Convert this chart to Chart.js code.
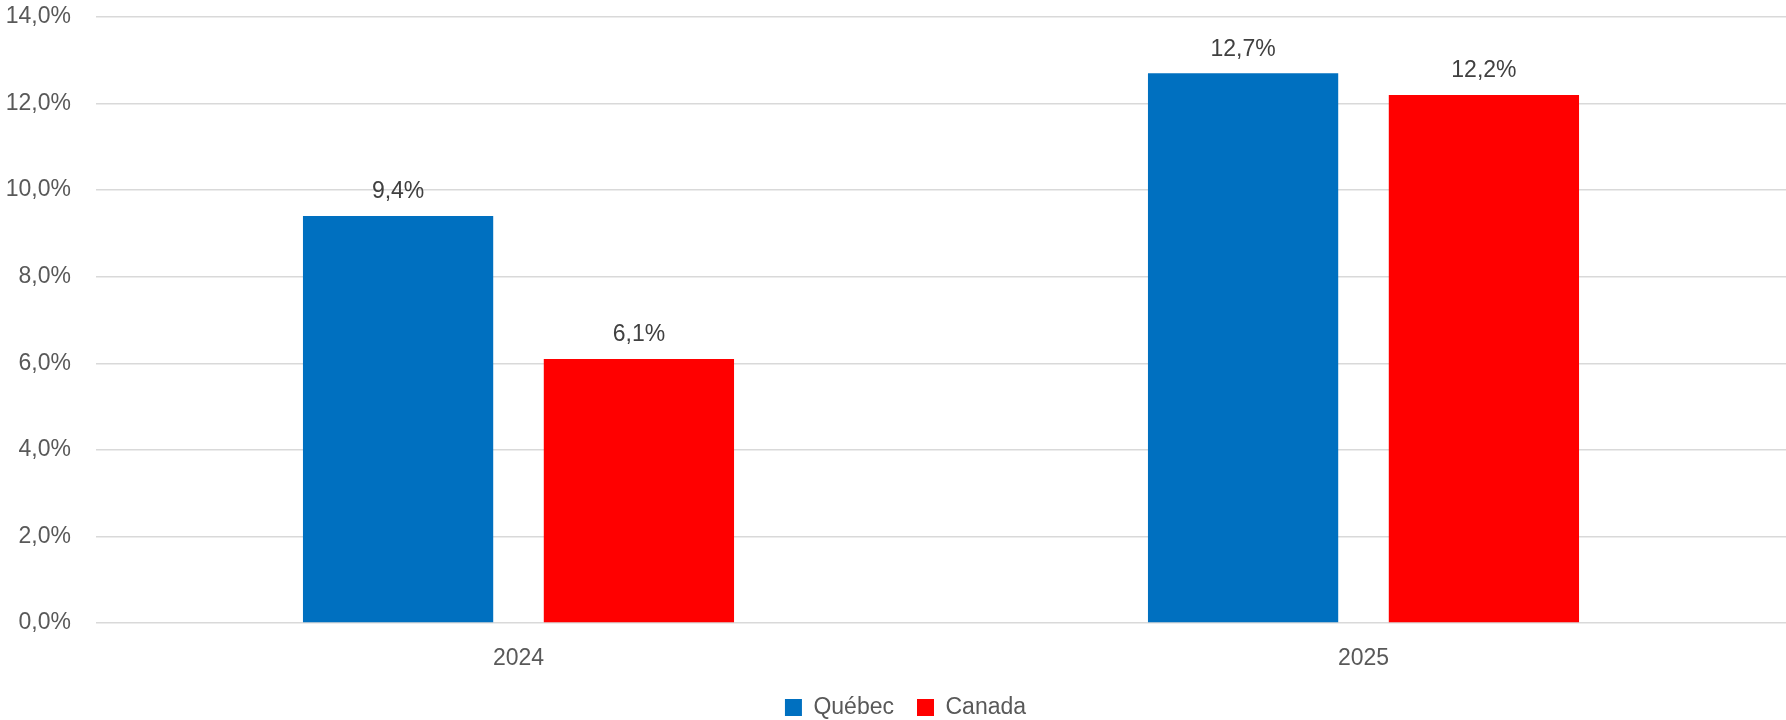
<!DOCTYPE html>
<html lang="fr">
<head>
    <meta charset="UTF-8">
    <title>Québec et Canada</title>
    <script src="https://cdn.jsdelivr.net/npm/chart.js"></script>
    <style>
        body { margin: 0; background: #fff; }
        .wrap { width: 1786px; height: 720px; }
    </style>
</head>
<body>
    <div class="wrap"><canvas id="graphique"></canvas></div>

    <script>
        // Données du graphique
        const annees = ['2024', '2025'];
        const quebec = [9.4, 12.7];
        const canada = [6.1, 12.2];
        const ticksY = [0, 2, 4, 6, 8, 10, 12, 14];

        const police = "'Liberation Sans', Arial, sans-serif";
        const gris = '#595959';

        // Format français : virgule décimale
        const pct = v => v.toFixed(1).replace('.', ',') + '%';

        // Étiquettes de valeur au-dessus des barres
        const etiquettes = {
            id: 'etiquettes',
            afterDatasetsDraw(chart) {
                const ctx = chart.ctx;
                ctx.save();
                ctx.font = '23px ' + police;
                ctx.fillStyle = '#404040';
                ctx.textAlign = 'center';
                ctx.textBaseline = 'middle';
                chart.data.datasets.forEach((ds, i) => {
                    chart.getDatasetMeta(i).data.forEach((bar, j) => {
                        ctx.fillText(pct(ds.data[j]), bar.x, bar.y - 24);
                    });
                });
                ctx.restore();
            }
        };

        // Centre la légende sous la zone du graphique plutôt que sous le canevas
        const legendeCentree = {
            id: 'legendeCentree',
            afterLayout(chart) {
                if (chart.legend) chart.legend.left = chart.chartArea.left - 71;
            }
        };

        new Chart(document.getElementById('graphique'), {
            type: 'bar',
            data: {
                labels: annees,
                datasets: [
                    { label: 'Québec', data: quebec, backgroundColor: '#0070C0' },
                    { label: 'Canada', data: canada, backgroundColor: '#FF0000' }
                ]
            },
            options: {
                responsive: true,
                maintainAspectRatio: false,
                animation: false,
                categoryPercentage: 0.57,
                barPercentage: 0.79,
                layout: { padding: { left: 0, top: 17, right: 0, bottom: -9 } },
                scales: {
                    x: {
                        grid: { display: false },
                        border: { display: false },
                        afterFit: axe => { axe.height = 50; },
                        ticks: { color: gris, font: { family: police, size: 23 }, padding: 14 }
                    },
                    y: {
                        min: 0,
                        max: 14,
                        afterBuildTicks: axe => { axe.ticks = ticksY.map(v => ({ value: v })); },
                        afterFit: axe => {
                            axe.width = 96;
                            axe.paddingTop = 0;
                            axe.paddingBottom = 0;
                        },
                        grid: { color: '#d9d9d9', lineWidth: 1.5, drawTicks: false },
                        border: { display: false },
                        ticks: { color: gris, font: { family: police, size: 23 }, padding: 25, callback: v => pct(v) }
                    }
                },
                plugins: {
                    legend: {
                        position: 'bottom',
                        labels: {
                            color: gris,
                            font: { family: police, size: 23 },
                            boxWidth: 17,
                            boxHeight: 17,
                            padding: 23
                        }
                    },
                    tooltip: { enabled: false }
                }
            },
            plugins: [etiquettes, legendeCentree]
        });
    </script>
</body>
</html>
